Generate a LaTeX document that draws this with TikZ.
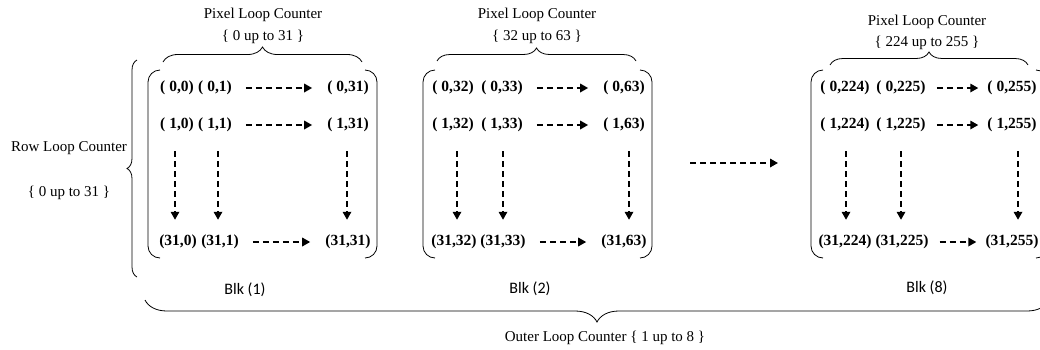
\documentclass[tikz,border=0pt]{standalone}
\usepackage{fontspec}
\setmainfont{Liberation Serif}
\newfontfamily\calib{Carlito}
\usetikzlibrary{arrows.meta,decorations.pathreplacing}
\begin{document}
\begin{tikzpicture}[x=1pt,y=-1pt,
 cell/.style={inner sep=0pt,font=\fontsize{15.5}{18}\selectfont\bfseries},
 lbl/.style={inner sep=0pt,font=\fontsize{15}{18}\selectfont},
 blk/.style={inner sep=0pt,font=\calib\fontsize{16}{19}\selectfont},
 darr/.style={dash pattern=on 6pt off 4pt, line width=1.7pt, -{Triangle[length=8pt,width=8.5pt]}},
 harr/.style={darr, shorten <=14pt, shorten >=15pt},
 varr/.style={darr, shorten <=19pt, shorten >=15pt},
 bracket/.style={line width=0.8pt, rounded corners=12pt},
 brc/.style={decorate, decoration={brace,amplitude=#1}, line width=0.8pt},
]
\useasboundingbox (0,0) rectangle (1040,349);
\clip (0,0) rectangle (1040,349);

% ---------- Block 1 ----------
\node[cell] (a11) at (177,88) {( 0,0)};
\node[cell] (a12) at (215,88) {( 0,1)};
\node[cell] (a13) at (348,88) {( 0,31)};
\node[cell] (a21) at (177,125) {( 1,0)};
\node[cell] (a22) at (215,125) {( 1,1)};
\node[cell] (a23) at (348,125) {( 1,31)};
\node[cell] (a31) at (178,242) {(31,0)};
\node[cell] (a32) at (220,242) {(31,1)};
\node[cell] (a33) at (348,242) {(31,31)};
\draw[harr] (a12.east) -- (a13.west);
\draw[harr] (a22.east) -- (a23.west);
\draw[harr] (a32.east) -- (a33.west);
\draw[varr] ([xshift=-2pt]a21.south) -- ([xshift=-2pt]a21.south |- a31.north);
\draw[varr] ([xshift=3pt]a22.south) -- ([xshift=3pt]a22.south |- a32.north);
\draw[varr] ([xshift=-1pt]a23.south) -- ([xshift=-1pt]a23.south |- a33.north);
\draw[bracket] (160,70) -- (148,70) -- (148,258) -- (160,258);
\draw[bracket] (365,70) -- (377,70) -- (377,258) -- (365,258);
\draw[brc=15pt] (163,62) -- (362,62);
\node[lbl] (p1) at (263,15) {Pixel Loop Counter};
\node[lbl] (q1) at (263,37) {\{ 0 up to 31 \}};
\node[blk] (k1) at (245,290) {Blk (1)};

% ---------- Block 2 ----------
\node[cell] (b11) at (453,88) {( 0,32)};
\node[cell] (b12) at (502,88) {( 0,33)};
\node[cell] (b13) at (624,88) {( 0,63)};
\node[cell] (b21) at (453,125) {( 1,32)};
\node[cell] (b22) at (502,125) {( 1,33)};
\node[cell] (b23) at (624,125) {( 1,63)};
\node[cell] (b31) at (454,242) {(31,32)};
\node[cell] (b32) at (503,242) {(31,33)};
\node[cell] (b33) at (624,242) {(31,63)};
\draw[harr] (b12.east) -- (b13.west);
\draw[harr] (b22.east) -- (b23.west);
\draw[harr] (b32.east) -- (b33.west);
\draw[varr] ([xshift=4pt]b21.south) -- ([xshift=4pt]b21.south |- b31.north);
\draw[varr] ([xshift=1pt]b22.south) -- ([xshift=1pt]b22.south |- b32.north);
\draw[varr] ([xshift=5pt]b23.south) -- ([xshift=5pt]b23.south |- b33.north);
\draw[bracket] (435,70) -- (423,70) -- (423,258) -- (435,258);
\draw[bracket] (640,70) -- (652,70) -- (652,258) -- (640,258);
\draw[brc=13pt] (437,61) -- (636,61);
\node[lbl] (p2) at (537,15) {Pixel Loop Counter};
\node[lbl] (q2) at (537,37) {\{ 32 up to 63 \}};
\node[blk] (k2) at (530,289) {Blk (2)};

% ---------- between blocks ----------
\coordinate (m1) at (690,163);
\coordinate (m2) at (778,163);
\draw[darr] (m1) -- (m2);

% ---------- Block 8 ----------
\node[cell] (c11) at (845,88) {( 0,224)};
\node[cell] (c12) at (901,88) {( 0,225)};
\node[cell] (c13) at (1012,88) {( 0,255)};
\node[cell] (c21) at (845,125) {( 1,224)};
\node[cell] (c22) at (901,125) {( 1,225)};
\node[cell] (c23) at (1012,125) {( 1,255)};
\node[cell] (c31) at (845,242) {(31,224)};
\node[cell] (c32) at (902,242) {(31,225)};
\node[cell] (c33) at (1012,242) {(31,255)};
\draw[darr, shorten <=11pt, shorten >=9pt] (c12.east) -- (c13.west);
\draw[darr, shorten <=11pt, shorten >=9pt] (c22.east) -- (c23.west);
\draw[darr, shorten <=11pt, shorten >=9pt] (c32.east) -- (c33.west);
\draw[varr] ([xshift=1pt]c21.south) -- ([xshift=1pt]c21.south |- c31.north);
\draw[varr] ([xshift=0pt]c22.south) -- ([xshift=0pt]c22.south |- c32.north);
\draw[varr] ([xshift=6pt]c23.south) -- ([xshift=6pt]c23.south |- c33.north);
\draw[bracket] (823,70) -- (811,70) -- (811,258) -- (823,258);
\draw[bracket] (1036,70) -- (1048,70) -- (1048,258) -- (1036,258);
\draw[brc=13pt] (830,65) -- (1028,65);
\node[lbl] (p8) at (927,22) {Pixel Loop Counter};
\node[lbl] (q8) at (927,43) {\{ 224 up to 255 \}};
\node[blk] (k8) at (927,288) {Blk (8)};

% ---------- Row loop counter ----------
\draw[brc=10pt] (137,277) -- (137,60);
\node[lbl] (r1) at (69,148) {Row Loop Counter};
\node[lbl] (r2) at (69,193) {\{ 0 up to 31 \}};

% ---------- Outer loop counter ----------
\draw[brc=22pt] (1049,300) -- (145,300);
\node[lbl] (o1) at (605,338) {Outer Loop Counter \{ 1 up to 8 \}};
\end{tikzpicture}
\end{document}
